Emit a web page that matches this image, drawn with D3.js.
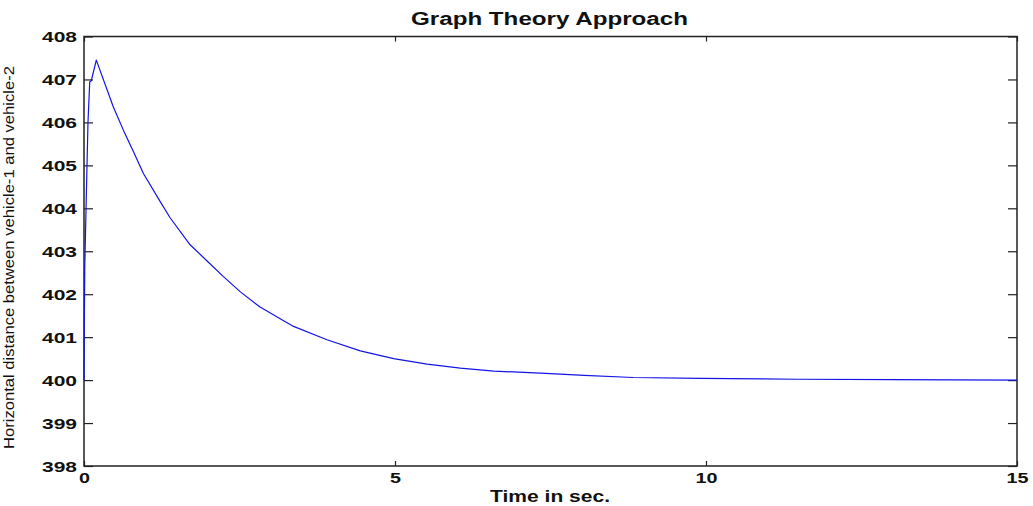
<!DOCTYPE html>
<html><head><meta charset="utf-8">
<script src="https://cdn.jsdelivr.net/npm/d3@7"></script>
<style>
html,body{margin:0;padding:0;background:#fff;}
svg{display:block;}
</style></head>
<body>
<svg id="chart" width="1033" height="506"></svg>
<script>
const title = "Graph Theory Approach";
const xLabel = "Time in sec.";
const yLabel = "Horizontal distance between vehicle-1 and vehicle-2";
const xTicks = [0, 5, 10, 15];
const yTicks = [398, 399, 400, 401, 402, 403, 404, 405, 406, 407, 408];
const timeSec = [0, 0.003, 0.012, 0.037, 0.064, 0.092, 0.117, 0.198, 0.472, 0.633, 0.794, 0.955, 1.223, 1.384, 1.706, 1.975, 2.242, 2.51, 2.83, 3.369, 3.906, 4.442, 4.978, 5.516, 6.05, 6.59, 7.5, 8.04, 8.83, 9.91, 11.47, 13.0, 15.0];
const distance = [400.0, 400.86, 402.6, 404.27, 406.0, 406.94, 406.97, 407.45, 406.36, 405.82, 405.32, 404.81, 404.16, 403.78, 403.15, 402.78, 402.41, 402.06, 401.7, 401.25, 400.94, 400.68, 400.5, 400.37, 400.28, 400.21, 400.15, 400.11, 400.06, 400.04, 400.02, 400.01, 400.0];

const svg = d3.select("#chart");
const L = 84, R = 1017, T = 36.5, B = 466;
const x = d3.scaleLinear().domain([0, 15]).range([L, R]);
const y = d3.scaleLinear().domain([398, 408]).range([B, T]);

svg.append("rect").attr("width", 1033).attr("height", 506).attr("fill", "#fff");

const tickFont = "Liberation Sans, Arial, sans-serif";

const gx = svg.append("g").attr("transform", `translate(0,${B})`)
  .call(d3.axisBottom(x).tickValues(xTicks).tickSizeInner(-5).tickSizeOuter(0).tickPadding(7).tickFormat(d3.format("d")));
const gxt = svg.append("g").attr("transform", `translate(0,${T})`)
  .call(d3.axisTop(x).tickValues(xTicks).tickSizeInner(-5).tickSizeOuter(0).tickFormat(""));
const gy = svg.append("g").attr("transform", `translate(${L},0)`)
  .call(d3.axisLeft(y).tickValues(yTicks).tickSizeInner(-9).tickSizeOuter(0).tickPadding(7).tickFormat(d3.format("d")));
const gyr = svg.append("g").attr("transform", `translate(${R},0)`)
  .call(d3.axisRight(y).tickValues(yTicks).tickSizeInner(-9).tickSizeOuter(0).tickFormat(""));

[gx, gxt, gy, gyr].forEach(g => {
  g.select(".domain").remove();
  g.selectAll(".tick line").attr("stroke", "#222").attr("stroke-width", 1.2);
});

gx.selectAll(".tick text")
  .attr("font-family", tickFont).attr("font-weight", "bold").attr("font-size", 14.5)
  .attr("fill", "#111").attr("dy", null).attr("y", 17)
  .attr("textLength", d => String(d).length * 11).attr("lengthAdjust", "spacingAndGlyphs");
gy.selectAll(".tick text")
  .attr("font-family", tickFont).attr("font-weight", "bold").attr("font-size", 14.5)
  .attr("fill", "#111").attr("x", -7).attr("dy", "0.35em")
  .attr("textLength", 35).attr("lengthAdjust", "spacingAndGlyphs");

svg.append("rect").attr("x", L).attr("y", T).attr("width", R - L).attr("height", B - T)
  .attr("fill", "none").attr("stroke", "#222").attr("stroke-width", 1.5);

const pts = timeSec.map((t, i) => [t, distance[i]]);
svg.append("path").datum(pts)
  .attr("fill", "none").attr("stroke", "#1414e6").attr("stroke-width", 1.2)
  .attr("stroke-linejoin", "round")
  .attr("d", d3.line().x(d => x(d[0])).y(d => y(d[1])));

svg.append("text").attr("x", (L + R) / 2 - 1).attr("y", 25)
  .attr("text-anchor", "middle").attr("font-family", tickFont).attr("font-weight", "bold")
  .attr("font-size", 18).attr("fill", "#111")
  .attr("textLength", 277).attr("lengthAdjust", "spacingAndGlyphs").text(title);

svg.append("text").attr("x", 550).attr("y", 501.5)
  .attr("text-anchor", "middle").attr("font-family", tickFont).attr("font-weight", "bold")
  .attr("font-size", 17).attr("fill", "#111")
  .attr("textLength", 120).attr("lengthAdjust", "spacingAndGlyphs").text(xLabel);

svg.append("text").attr("transform", "translate(14,257.5) rotate(-90)")
  .attr("text-anchor", "middle").attr("font-family", "Liberation Sans Narrow, Liberation Sans, Arial, sans-serif")
  .attr("font-size", 14).attr("fill", "#111")
  .attr("textLength", 383).attr("lengthAdjust", "spacingAndGlyphs").text(yLabel);
</script>
</body></html>
